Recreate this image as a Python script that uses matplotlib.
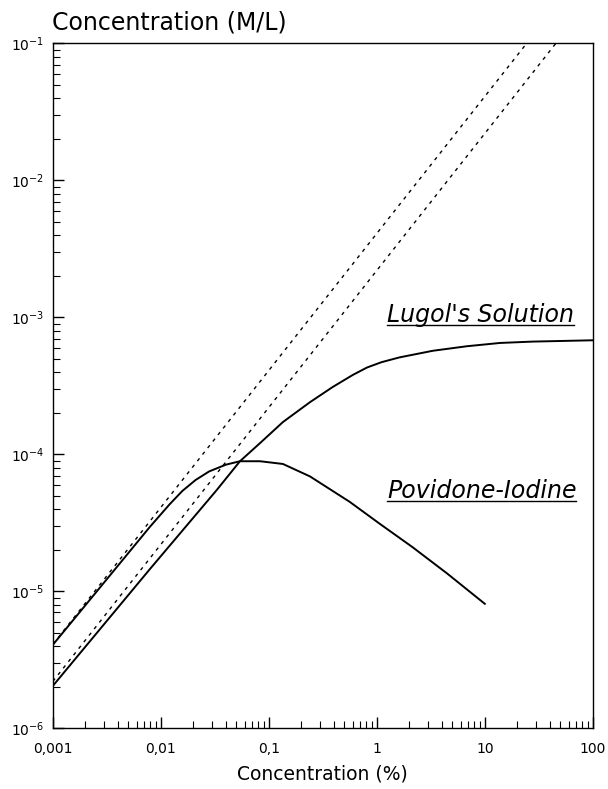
import matplotlib
matplotlib.use("Agg")
import matplotlib.pyplot as plt
from matplotlib.lines import Line2D
from matplotlib.ticker import FixedLocator, LogLocator, NullFormatter

plt.rcParams['font.family'] = ['DejaVu Sans']
plt.rcParams['mathtext.fontset'] = 'dejavusans'

# Povidone-iodine curve
povX = [0.001, 0.0079, 0.012, 0.0158, 0.021, 0.028, 0.04, 0.054, 0.083, 0.135, 0.24,
        0.56, 1.07, 2.14, 4.47, 10]
povY = [4.07e-6, 2.95e-5, 4.3e-5, 5.4e-5, 6.5e-5, 7.5e-5, 8.4e-5, 8.9e-5, 8.9e-5, 8.5e-5,
        6.9e-5, 4.5e-5, 3.1e-5, 2.1e-5, 1.35e-5, 8.1e-6]

# Lugol's solution curve
lugX = [0.001, 0.0079, 0.033, 0.054, 0.085, 0.135, 0.24, 0.39, 0.6, 0.81, 1.1, 1.62,
        3.3, 6.8, 13.8, 27.5, 100]
lugY = [2.04e-6, 1.45e-5, 5.5e-5, 8.9e-5, 1.23e-4, 1.72e-4, 2.4e-4, 3.1e-4, 3.8e-4,
        4.3e-4, 4.7e-4, 5.1e-4, 5.7e-4, 6.15e-4, 6.5e-4, 6.65e-4, 6.8e-4]

# Dashed straight lines (slope 1)
dashUpX = [0.001, 100]
dashUpY = [4.1e-6, 0.41]
dashLoX = [0.001, 100]
dashLoY = [2.2e-6, 0.22]

xTicks = [0.001, 0.01, 0.1, 1, 10, 100]
xTickLabels = ['0,001', '0,01', '0,1', '1', '10', '100']
yTicks = [1e-6, 1e-5, 1e-4, 1e-3, 1e-2, 1e-1]
yTickLabels = [r'$\mathregular{10^{-6}}$', r'$\mathregular{10^{-5}}$', r'$\mathregular{10^{-4}}$',
               r'$\mathregular{10^{-3}}$', r'$\mathregular{10^{-2}}$', r'$\mathregular{10^{-1}}$']

fig = plt.figure(figsize=(6.08, 7.89), dpi=100)
ax = fig.add_axes([0.087, 0.077, 0.888, 0.868])

ax.plot(povX, povY, color='black', lw=1.4, solid_joinstyle='round')
ax.plot(lugX, lugY, color='black', lw=1.4, solid_joinstyle='round')
ax.plot(dashUpX, dashUpY, color='black', lw=1.0, linestyle=(0, (2.5, 3.5)))
ax.plot(dashLoX, dashLoY, color='black', lw=1.0, linestyle=(0, (2.5, 3.5)))

ax.set_xscale('log')
ax.set_yscale('log')
ax.set_xlim(0.001, 100)
ax.set_ylim(1e-6, 1e-1)

ax.xaxis.set_major_locator(FixedLocator(xTicks))
ax.set_xticklabels(xTickLabels)
ax.yaxis.set_major_locator(FixedLocator(yTicks))
ax.set_yticklabels(yTickLabels)
ax.xaxis.set_minor_locator(LogLocator(base=10, subs=range(2, 10)))
ax.yaxis.set_minor_locator(LogLocator(base=10, subs=range(2, 10)))
ax.xaxis.set_minor_formatter(NullFormatter())
ax.yaxis.set_minor_formatter(NullFormatter())

ax.tick_params(which='major', direction='in', length=8, width=1, labelsize=10, top=False, right=False)
ax.tick_params(which='minor', direction='in', length=5, width=0.8, top=False, right=False)
ax.tick_params(axis='x', which='major', pad=10)
ax.tick_params(axis='y', which='major', pad=6)
for s in ax.spines.values():
    s.set_linewidth(1.0)

ax.set_xlabel('Concentration (%)', fontsize=13.5, labelpad=6)
fig.text(0.085, 0.971, 'Concentration (M/L)', fontsize=17, ha='left', va='center')

# Underlined italic curve labels
labels = []
labels.append(ax.text(1.24, 9.2e-4, "Lugol's Solution", fontsize=17, style='italic',
                      ha='left', va='baseline'))
labels.append(ax.text(1.24, 4.8e-5, 'Povidone-Iodine', fontsize=17, style='italic',
                      ha='left', va='baseline'))

fig.canvas.draw()
inv = fig.transFigure.inverted()
for t in labels:
    bb = t.get_window_extent()
    base = ax.transData.transform(t.get_position())[1] - 3
    p0 = inv.transform((bb.x0, base))
    p1 = inv.transform((bb.x1, base))
    fig.add_artist(Line2D([p0[0], p1[0]], [p0[1], p1[1]], color='black', lw=1.0))

fig.savefig('out.png', dpi=100)
